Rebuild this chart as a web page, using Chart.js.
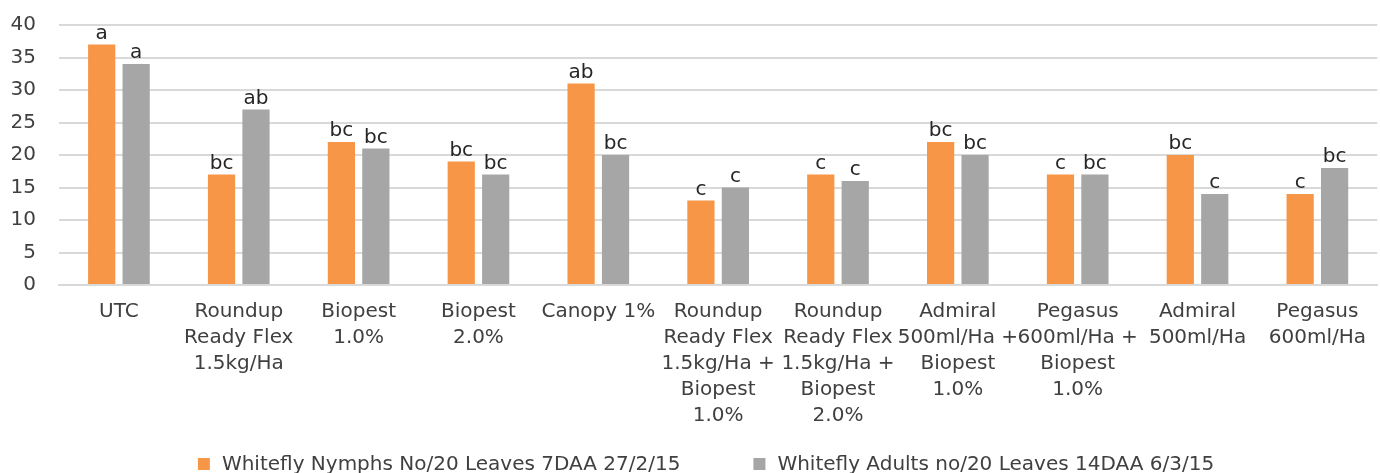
<!DOCTYPE html>
<html>
<head>
<meta charset="utf-8">
<script src="https://cdn.jsdelivr.net/npm/chart.js@4/dist/chart.umd.min.js"></script>
<style>
  html, body { margin: 0; padding: 0; background: #ffffff; }
  #wrap { width: 1380px; height: 473px; position: relative; }
</style>
</head>
<body>
<div id="wrap"><canvas id="c" width="1380" height="473"></canvas></div>
<script>
const categories = [
  "UTC",
  ["Roundup", "Ready Flex", "1.5kg/Ha"],
  ["Biopest", "1.0%"],
  ["Biopest", "2.0%"],
  "Canopy 1%",
  ["Roundup", "Ready Flex", "1.5kg/Ha +", "Biopest", "1.0%"],
  ["Roundup", "Ready Flex", "1.5kg/Ha +", "Biopest", "2.0%"],
  ["Admiral", "500ml/Ha +", "Biopest", "1.0%"],
  ["Pegasus", "600ml/Ha +", "Biopest", "1.0%"],
  ["Admiral", "500ml/Ha"],
  ["Pegasus", "600ml/Ha"]
];
const nymphsLabel = "Whitefly Nymphs No/20 Leaves 7DAA 27/2/15";
const adultsLabel = "Whitefly Adults no/20 Leaves 14DAA 6/3/15";
const nymphs = [37, 17, 22, 19, 31, 13, 17, 22, 17, 20, 14];
const adults = [34, 27, 21, 17, 20, 15, 16, 20, 17, 14, 18];
const nymphLetters = ["a", "bc", "bc", "bc", "ab", "c", "c", "bc", "c", "bc", "c"];
const adultLetters = ["a", "ab", "bc", "bc", "bc", "c", "c", "bc", "bc", "c", "bc"];
const yTicks = [0, 5, 10, 15, 20, 25, 30, 35, 40];

const ORANGE = "#F79646";
const GREY = "#A6A6A6";
const FONT = "'DejaVu Sans', sans-serif";
const TEXT = "#404040";

const letterPlugin = {
  id: "letters",
  afterDatasetsDraw(chart) {
    const ctx = chart.ctx;
    ctx.save();
    ctx.font = "20px " + FONT;
    ctx.fillStyle = "#262626";
    ctx.textAlign = "center";
    ctx.textBaseline = "alphabetic";
    chart.data.datasets.forEach((ds, di) => {
      const meta = chart.getDatasetMeta(di);
      meta.data.forEach((bar, i) => {
        ctx.fillText(ds.letters[i], bar.x, bar.y - 6);
      });
    });
    ctx.restore();
  }
};

const legendPlugin = {
  id: "customLegend",
  afterDraw(chart) {
    const ctx = chart.ctx;
    ctx.save();
    ctx.font = "20px " + FONT;
    const box = 12, boxGap = 12, itemGap = 73;
    const items = chart.data.datasets.map(ds => ({ text: ds.label, color: ds.backgroundColor, w: ctx.measureText(ds.label).width }));
    let total = 0;
    items.forEach((it, i) => { total += box + boxGap + it.w + (i > 0 ? itemGap : 0); });
    let x = (chart.width - total) / 2 + 16;
    const cy = 464;
    ctx.textBaseline = "middle";
    ctx.textAlign = "left";
    items.forEach((it, i) => {
      if (i > 0) x += itemGap;
      ctx.fillStyle = it.color;
      ctx.fillRect(x, cy - box / 2, box, box);
      x += box + boxGap;
      ctx.fillStyle = TEXT;
      ctx.fillText(it.text, x, cy + 1);
      x += it.w;
    });
    ctx.restore();
  }
};

new Chart(document.getElementById("c"), {
  type: "bar",
  data: {
    labels: categories,
    datasets: [
      { label: nymphsLabel, data: nymphs, letters: nymphLetters, backgroundColor: ORANGE, categoryPercentage: 0.575, barPercentage: 0.79 },
      { label: adultsLabel, data: adults, letters: adultLetters, backgroundColor: GREY, categoryPercentage: 0.575, barPercentage: 0.79 }
    ]
  },
  options: {
    responsive: false,
    animation: false,
    devicePixelRatio: 1,
    layout: { padding: { top: 25, left: 10, right: 0, bottom: 30 } },
    plugins: {
      legend: { display: false },
      tooltip: { enabled: false }
    },
    scales: {
      x: {
        grid: { display: false, drawTicks: false },
        border: { display: true, color: "#d9d9d9", width: 2 },
        ticks: {
          autoSkip: false, maxRotation: 0, minRotation: 0,
          color: TEXT, padding: 14,
          font: { family: FONT, size: 20, lineHeight: 1.3 }
        }
      },
      y: {
        min: 0, max: 40,
        afterBuildTicks(scale) { scale.ticks = yTicks.map(v => ({ value: v })); },
        afterFit(scale) { scale.width = 49; scale.paddingTop = 0; scale.paddingBottom = 0; },
        grid: { color: "#d9d9d9", lineWidth: 2, drawTicks: false },
        border: { display: false },
        ticks: {
          color: TEXT, padding: 23,
          font: { family: FONT, size: 20 }
        }
      }
    }
  },
  plugins: [letterPlugin, legendPlugin]
});
</script>
</body>
</html>
